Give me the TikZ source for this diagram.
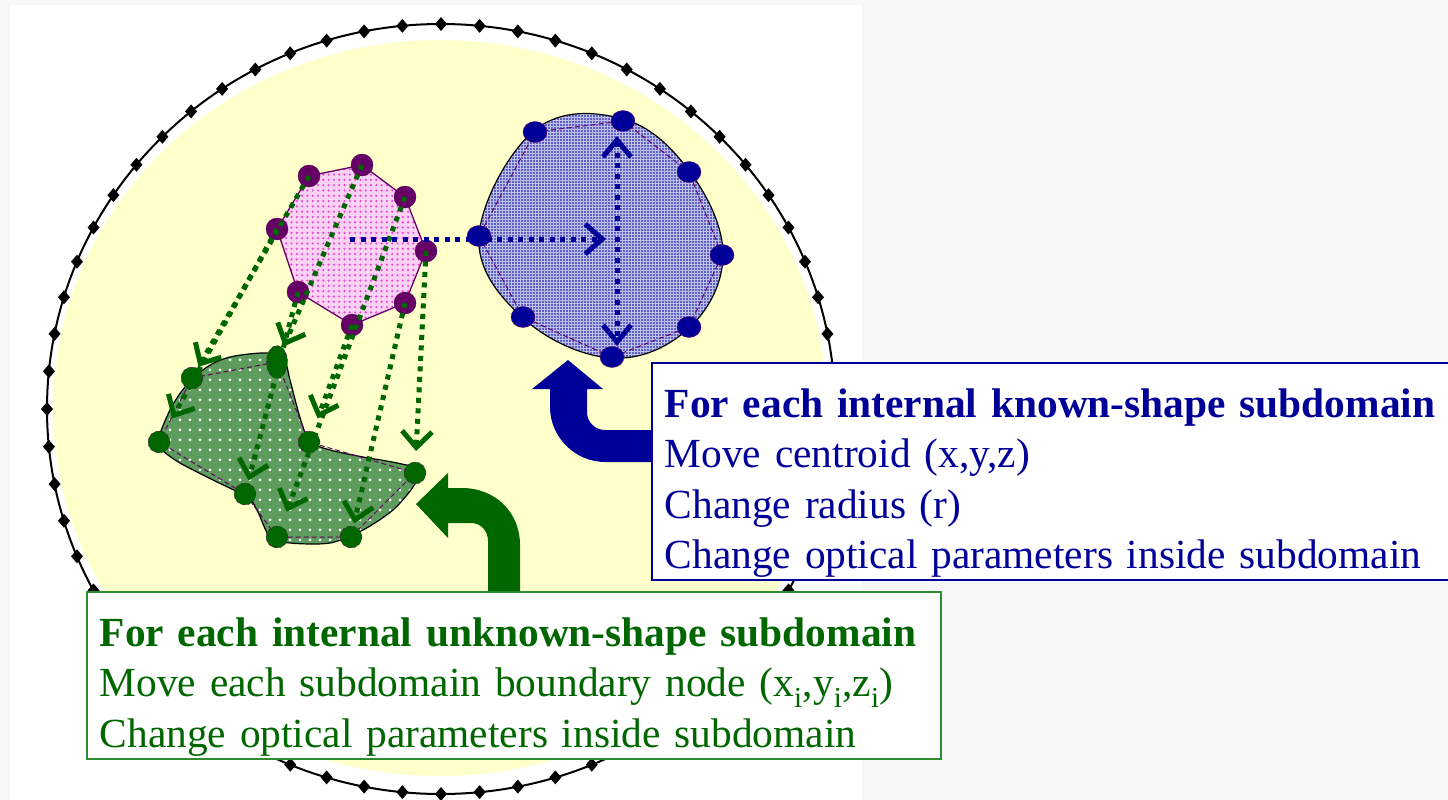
\documentclass[tikz,border=0pt]{standalone}
\usepackage{fontspec}
\setmainfont{Liberation Serif}
\usetikzlibrary{arrows.meta,patterns.meta,shapes.geometric}

\definecolor{navy}{HTML}{000099}
\definecolor{dgreen}{HTML}{006600}
\definecolor{plum}{HTML}{660066}
\definecolor{pale}{HTML}{FFFFCC}
\definecolor{pagegray}{HTML}{F7F7F7}
\definecolor{pinkbase}{HTML}{FAD2F4}
\definecolor{pinkdot}{HTML}{EE44D4}
\definecolor{bluebase}{HTML}{BCC0EA}
\definecolor{greenbase}{HTML}{5E9C5E}
\definecolor{boxgreen}{HTML}{2E8B2E}

\tikzset{
  pinkvert/.style={circle, fill=plum, draw=plum!80!black, minimum size=22pt, inner sep=0pt},
  bluevert/.style={ellipse, fill=navy, draw=plum, minimum width=24pt, minimum height=21pt, inner sep=0pt},
  greenvert/.style={circle, fill=dgreen, draw=plum, dashed, minimum size=22pt, inner sep=0pt},
  gmove/.style={dgreen, line width=5pt, dash pattern=on 5pt off 5.5pt,
    -{Straight Barb[length=16pt,width=30pt]}},
  bmove/.style={navy, line width=5pt, dash pattern=on 5pt off 5.5pt},
  outline/.style={draw=plum, line width=1pt, dash pattern=on 5pt off 3pt},
  infobox/.style={line width=1.5pt, fill=white, align=left, anchor=north west,
    inner xsep=13pt, inner ysep=0pt, font=\fontsize{41.4}{50.5}\selectfont}
}

\begin{document}
\begin{tikzpicture}[x=1pt,y=-1pt]
\useasboundingbox (0,0) rectangle (1448,800);
\fill[pagegray] (0,0) rectangle (1448,800);
\fill[white] (10,5) rectangle (862,805);

% outer boundary with its nodes
\coordinate (ringc) at (441,409);
\fill[pale] (440,408) ellipse [x radius=387pt, y radius=368pt];
\draw[line width=2pt] (ringc) ellipse [x radius=394pt, y radius=385pt];
\foreach \k in {0,...,63}
  \fill ({441+394*cos(\k*5.625)},{409+385*sin(\k*5.625)})
    ++(0,-7) -- ++(6,7) -- ++(-6,7) -- ++(-6,-7) -- cycle;

% pink (initial) subdomain
\coordinate (pa1) at (309,176); \coordinate (pa2) at (362,165);
\coordinate (pa3) at (405,197); \coordinate (pa4) at (426,251);
\coordinate (pa5) at (405,303); \coordinate (pa6) at (352,325);
\coordinate (pa7) at (298,292); \coordinate (pa8) at (277,229);
\fill[pinkbase, postaction={pattern={Dots[distance=5.3pt,radius=1.2pt]}, pattern color=pinkdot}]
  (pa1) -- (pa2) -- (pa3) -- (pa4) -- (pa5) -- (pa6) -- (pa7) -- (pa8) -- cycle;
\draw[plum, line width=1.3pt]
  (pa1) -- (pa2) -- (pa3) -- (pa4) -- (pa5) -- (pa6) -- (pa7) -- (pa8) -- cycle;

% known-shape subdomain
\coordinate (ba1) at (535,132); \coordinate (ba2) at (623,121);
\coordinate (ba3) at (689,172); \coordinate (ba4) at (722,255);
\coordinate (ba5) at (689,327); \coordinate (ba6) at (612,357);
\coordinate (ba7) at (523,317); \coordinate (ba8) at (479,236);
\fill[bluebase, postaction={pattern={Dots[distance=3pt,radius=0.85pt]}, pattern color=navy}]
  plot[smooth cycle, tension=0.65] coordinates {(535,130) (623,119) (690,172) (723,255)
    (689,328) (612,358) (523,318) (479,236)};
\draw[black, line width=1.2pt]
  plot[smooth cycle, tension=0.65] coordinates {(535,130) (623,119) (690,172) (723,255)
    (689,328) (612,358) (523,318) (479,236)};
\draw[outline]
  (ba1) -- (ba2) -- (ba3) -- (ba4) -- (ba5) -- (ba6) -- (ba7) -- (ba8) -- cycle;

% unknown-shape subdomain
\coordinate (ga1) at (192,378); \coordinate (ga2) at (277,362);
\coordinate (ga3) at (309,442); \coordinate (ga4) at (415,473);
\coordinate (ga5) at (351,537); \coordinate (ga6) at (277,537);
\coordinate (ga7) at (245,494); \coordinate (ga8) at (159,442);
\fill[greenbase, postaction={pattern={Dots[distance=10pt,radius=1.5pt]}, pattern color=white}]
  plot[smooth cycle, tension=0.5] coordinates {(158,440) (170,410) (185,387) (207,367)
    (230,357) (263,353) (283,357) (290,380) (297,407) (303,427) (310,442) (330,450)
    (363,457) (397,463) (420,470) (413,487) (393,510) (363,530) (330,543) (290,543)
    (270,537) (257,510) (247,497) (213,480) (180,463) (162,450)};
\draw[black, line width=1.2pt]
  plot[smooth cycle, tension=0.5] coordinates {(158,440) (170,410) (185,387) (207,367)
    (230,357) (263,353) (283,357) (290,380) (297,407) (303,427) (310,442) (330,450)
    (363,457) (397,463) (420,470) (413,487) (393,510) (363,530) (330,543) (290,543)
    (270,537) (257,510) (247,497) (213,480) (180,463) (162,450)};
\draw[outline]
  (ga1) -- (ga2) -- (ga3) -- (ga4) -- (ga5) -- (ga6) -- (ga7) -- (ga8) -- cycle;

% boundary nodes
\foreach \i in {1,...,8} \node[pinkvert] (p\i) at (pa\i) {};
\foreach \i in {1,...,8} \node[bluevert] (b\i) at (ba\i) {};
\foreach \i in {1,3,4,5,6,7,8} \node[greenvert] (g\i) at (ga\i) {};
\node[greenvert, ellipse, minimum width=21pt, minimum height=33pt] (g2) at (ga2) {};

% node displacements
\draw[gmove, shorten >=13pt] (p1.center) -- (g1.center);
\draw[gmove, shorten >=17pt] (p2.center) -- (g2.center);
\draw[gmove, shorten >=27pt] (p3.center) -- (g6.center);
\draw[gmove, shorten >=22pt] (p4.center) -- (g4.center);
\draw[gmove, shorten >=14pt] (p5.center) -- (g5.center);
\draw[gmove, shorten >=25pt] (p6.center) -- (g3.center);
\draw[gmove, shorten >=14pt] (p7.center) -- (g7.center);
\draw[gmove, shorten >=27pt] (p8.center) -- (g8.center);

% centroid move and radius change
\coordinate (pc) at (350,239);
\coordinate (bc) at (617,239);
\coordinate (bt) at (617,121);
\coordinate (bb) at (617,357);
\draw[bmove, -{Straight Barb[length=17pt,width=30pt]}, shorten >=11pt] (pc) -- (bc);
\draw[bmove, {Straight Barb[length=17pt,width=28pt]}-{Straight Barb[length=17pt,width=28pt]},
  shorten <=15pt, shorten >=11pt] (bt) -- (bb);

% info boxes (the strut on the first line lowers the text block a little)
\node[infobox, draw=navy, text=navy, text width=790pt, minimum height=217pt] (kbox) at (651,362)
  {\rule{0pt}{52pt}\mbox{\textbf{For each internal known-shape subdomain}}\\
   Move centroid (x,y,z)\\
   Change radius (r)\\
   \mbox{Change optical parameters inside subdomain}};
\node[infobox, draw=boxgreen, text=dgreen, text width=828pt, minimum height=167pt] (ubox) at (86,591)
  {\rule{0pt}{52pt}\mbox{\textbf{For each internal unknown-shape subdomain}}\\
   \mbox{Move each subdomain boundary node (x\textsubscript{i},y\textsubscript{i},z\textsubscript{i})}\\
   \mbox{Change optical parameters inside subdomain}};

% bent arrows pointing from the boxes to the subdomains
\fill[navy] (kbox.north west |- 0,430) -- (605,430) .. controls (595,430) and (587,422) .. (587,412)
  -- (587,389) -- (603,389) -- (568,360) -- (532,389) -- (550,389) -- (550,407)
  .. controls (550,437) and (575,462) .. (605,462) -- (kbox.north west |- 0,462) -- cycle;
\fill[dgreen] (416,504) -- (448,473) -- (448,488) -- (462,488)
  .. controls (495,488) and (520,512) .. (520,545) -- (ubox.north west -| 520,0)
  -- (ubox.north west -| 488,0) -- (488,541) .. controls (488,531) and (481,523) .. (471,523)
  -- (448,523) -- (448,538) -- cycle;
\end{tikzpicture}
\end{document}
